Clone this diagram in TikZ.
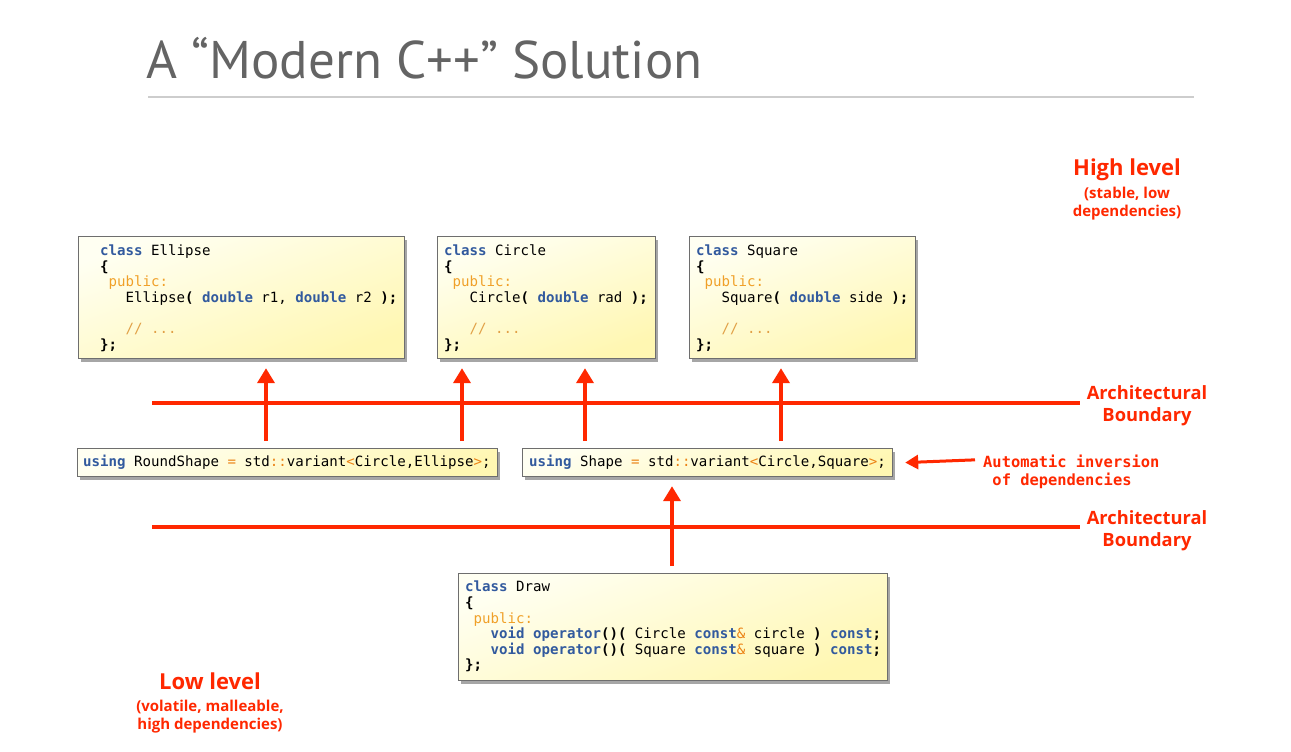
\documentclass[tikz,border=0pt]{standalone}
\usepackage{fontspec}
\usetikzlibrary{arrows.meta,shadows,calc}
\newfontfamily\codefont{DejaVu Sans Mono}
\newfontfamily\labfont{PT Sans}
\newfontfamily\redfont{Open Sans}
\definecolor{kwblue}{RGB}{50,90,158}
\definecolor{puborange}{RGB}{240,160,40}
\definecolor{cmtorange}{RGB}{225,160,70}
\definecolor{opor}{RGB}{235,130,20}
\definecolor{redc}{RGB}{255,40,0}
\definecolor{titlegray}{RGB}{100,100,100}
\definecolor{boxtop}{RGB}{255,255,242}
\definecolor{boxbot}{RGB}{255,247,178}
\newcommand\kw[1]{\textcolor{kwblue}{\textbf{#1}}}
\newcommand\pub[1]{\textcolor{puborange}{#1}}
\newcommand\cmt[1]{\textcolor{cmtorange}{#1}}
\newcommand\opc[1]{\textcolor{opor}{#1}}
\newcommand\bk[1]{\textbf{#1}}
\tikzset{
  codebox/.style={draw={rgb,255:red,110;green,110;blue,110}, line width=1.2pt,
    shading=axis, top color=boxtop, bottom color=boxbot, shading angle=20,
    drop shadow={shadow xshift=2.5pt, shadow yshift=-3pt, opacity=0.35, fill=black},
    anchor=north west, inner sep=0pt},
  code/.style={font={\codefont\fontsize{14.1}{15.6}\selectfont}, align=left, inner sep=0pt, anchor=north west},
  codeline/.style={font={\codefont\fontsize{14.1}{15.6}\selectfont}, inner sep=0pt, anchor=base west},
  redline/.style={draw=redc, line width=4pt},
  arr/.style={draw=redc, line width=4pt, -{Triangle[width=17pt,length=15pt]}},
  arrthin/.style={draw=redc, line width=3pt, -{Triangle[width=14pt,length=13pt]}},
  lab/.style={text=redc, font={\redfont\bfseries\fontsize{18.3}{22}\selectfont}, inner sep=0pt, anchor=base},
  labbig/.style={text=redc, font={\redfont\bfseries\fontsize{22}{28}\selectfont}, inner sep=0pt, anchor=base},
  labsmall/.style={text=redc, font={\redfont\bfseries\fontsize{15}{18}\selectfont}, inner sep=0pt, anchor=base},
}
\begin{document}
\begin{tikzpicture}[x=1pt,y=-1pt]
\useasboundingbox[fill=white] (0,0) rectangle (1291,752);
% title
\node[anchor=base west, inner sep=0pt, text=titlegray, font={\labfont\fontsize{53}{60}\selectfont}] (title) at (146,78) {A “Modern C++” Solution};
\coordinate (rl) at (148,97);
\coordinate (rr) at (1194,97);
\draw[line width=1.5pt, draw={rgb,255:red,205;green,205;blue,205}] (rl) -- (rr);

% class boxes
\node[codebox, minimum width=326pt, minimum height=122pt] (ell) at (78,236) {};
\node[code] (ellt) at ($(ell.north west)+(22,8.5)$) {\kw{class} Ellipse\\
\bk{\{}\\
\ \pub{public:}\\
\ \ \ Ellipse\bk{(} \kw{double} r1, \kw{double} r2 \bk{);}\\[15.6pt]
\ \ \ \cmt{// ...}\\
\bk{\};}};

\node[codebox, minimum width=218pt, minimum height=122pt] (cir) at (437,236) {};
\node[code] (cirt) at ($(cir.north west)+(7,8.5)$) {\kw{class} Circle\\
\bk{\{}\\
\ \pub{public:}\\
\ \ \ Circle\bk{(} \kw{double} rad \bk{);}\\[15.6pt]
\ \ \ \cmt{// ...}\\
\bk{\};}};

\node[codebox, minimum width=226pt, minimum height=122pt] (sq) at (689,236) {};
\node[code] (sqt) at ($(sq.north west)+(7,8.5)$) {\kw{class} Square\\
\bk{\{}\\
\ \pub{public:}\\
\ \ \ Square\bk{(} \kw{double} side \bk{);}\\[15.6pt]
\ \ \ \cmt{// ...}\\
\bk{\};}};

% using boxes
\node[codebox, minimum width=420pt, minimum height=28pt] (rs) at (77,448) {};
\node[codeline] (rst) at (83,466) {\kw{using} RoundShape \opc{=} std\opc{::}variant\opc{<}Circle,Ellipse\opc{>};};

\node[codebox, minimum width=370pt, minimum height=28pt] (sh) at (522,448) {};
\node[codeline] (sht) at (529,466) {\kw{using} Shape \opc{=} std\opc{::}variant\opc{<}Circle,Square\opc{>};};

% draw box
\node[codebox, minimum width=429pt, minimum height=107pt] (dr) at (458,573) {};
\node[code] (drt) at ($(dr.north west)+(7,8)$) {\kw{class} Draw\\
\bk{\{}\\
\ \pub{public:}\\
\ \ \ \kw{void} \kw{operator}\bk{()(} Circle \kw{const}\opc{\&} circle \bk{)} \kw{const}\bk{;}\\
\ \ \ \kw{void} \kw{operator}\bk{()(} Square \kw{const}\opc{\&} square \bk{)} \kw{const}\bk{;}\\
\bk{\};}};

% boundaries
\coordinate (b1l) at (152,403);
\coordinate (b1r) at (1080,403);
\coordinate (b2l) at (152,527);
\coordinate (b2r) at (1080,527);
\draw[redline] (b1l) -- (b1r);
\draw[redline] (b2l) -- (b2r);

% arrows
\draw[arr] ($(266,0 |- rs.north)+(0,-7)$) -- ($(266,0 |- ell.south)+(0,9)$);
\draw[arr] ($(462,0 |- rs.north)+(0,-7)$) -- ($(462,0 |- cir.south)+(0,9)$);
\draw[arr] ($(585,0 |- sh.north)+(0,-7)$) -- ($(585,0 |- cir.south)+(0,9)$);
\draw[arr] ($(781,0 |- sh.north)+(0,-7)$) -- ($(781,0 |- sq.south)+(0,9)$);
\draw[arr] ($(672,0 |- dr.north)+(0,-7)$) -- ($(672,0 |- sh.south)+(0,9)$);

% automatic inversion
\node[anchor=base west, inner sep=0pt, text=redc, font={\codefont\bfseries\fontsize{15.4}{18}\selectfont}] (ai1) at (983,467) {Automatic inversion};
\node[anchor=base west, inner sep=0pt, text=redc, font={\codefont\bfseries\fontsize{15.4}{18}\selectfont}] (ai2) at (983,485) {\ of dependencies};
\draw[arrthin] ($(ai1.west)+(-8,-1)$) -- ($(sh.east)+(12,0)$);

% labels
\node[labbig] (hl1) at (1127,175) {High level};
\node[labsmall] (hl2) at (1127,198) {(stable, low};
\node[labsmall] (hl3) at (1127,216) {dependencies)};
\node[lab] (ab1) at (1147,399) {Architectural};
\node[lab] (ab2) at (1147,421) {Boundary};
\node[lab] (ab3) at (1147,524) {Architectural};
\node[lab] (ab4) at (1147,546) {Boundary};
\node[labbig] (ll1) at (210,689) {Low level};
\node[labsmall] (ll2) at (210,711) {(volatile, malleable,};
\node[labsmall] (ll3) at (210,729) {high dependencies)};
\end{tikzpicture}
\end{document}
